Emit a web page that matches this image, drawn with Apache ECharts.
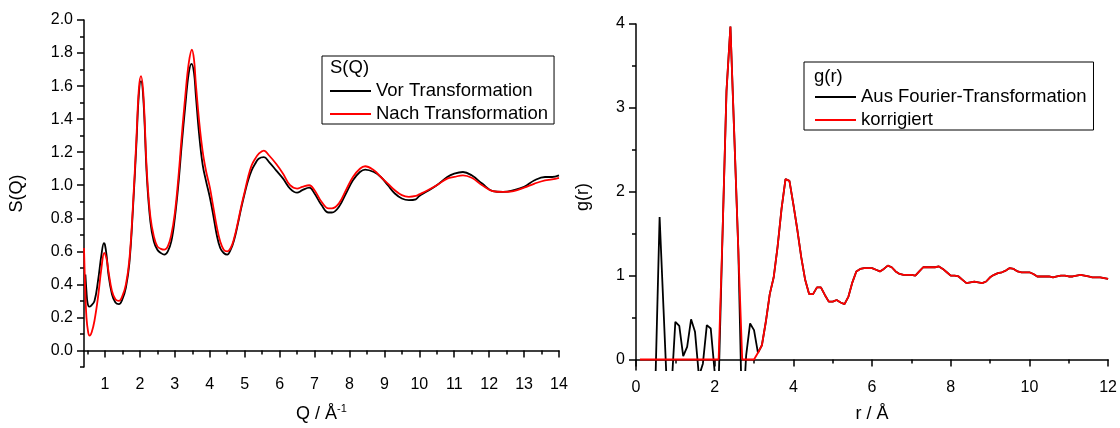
<!DOCTYPE html>
<html>
<head>
<meta charset="utf-8">
<script src="https://cdn.jsdelivr.net/npm/echarts@6/dist/echarts.min.js"></script>
<style>
  html, body { margin: 0; padding: 0; background: #fff; }
  #chart { width: 1120px; height: 428px; }
</style>
</head>
<body>
<div id="chart"></div>
<script>
// S(Q) vor / nach Transformation (links)
var qVor = [0.44, 0.47, 0.5, 0.55, 0.6, 0.7, 0.8, 0.9, 0.97, 1.0, 1.05, 1.1, 1.2, 1.3, 1.4, 1.5, 1.6, 1.7, 1.8, 1.9,
  1.97, 2.03, 2.1, 2.2, 2.3, 2.4, 2.5, 2.6, 2.7, 2.8, 2.9, 3.0, 3.1, 3.2, 3.3, 3.4, 3.48, 3.55, 3.6, 3.7,
  3.8, 3.9, 4.0, 4.1, 4.2, 4.3, 4.4, 4.5, 4.6, 4.7, 4.8, 4.9, 5.0, 5.1, 5.2, 5.3, 5.4, 5.55, 5.7, 5.9,
  6.1, 6.3, 6.5, 6.65, 6.85, 7.0, 7.2, 7.4, 7.5, 7.7, 7.9, 8.1, 8.3, 8.45, 8.7, 8.9, 9.1, 9.3, 9.5, 9.7,
  9.9, 10.0, 10.2, 10.5, 10.8, 11.0, 11.25, 11.5, 11.8, 12.1, 12.4, 12.7, 13.0, 13.3, 13.6, 13.8, 14.0];
var sVor = [0.46, 0.36, 0.29, 0.265, 0.27, 0.30, 0.42, 0.58, 0.65, 0.64, 0.57, 0.46, 0.34, 0.29, 0.28, 0.31, 0.38, 0.53, 0.85, 1.25,
  1.55, 1.63, 1.52, 1.05, 0.78, 0.66, 0.61, 0.59, 0.58, 0.60, 0.66, 0.80, 1.00, 1.25, 1.48, 1.68, 1.735, 1.68, 1.55, 1.30,
  1.12, 1.02, 0.93, 0.82, 0.70, 0.62, 0.59, 0.58, 0.61, 0.67, 0.76, 0.86, 0.95, 1.03, 1.09, 1.13, 1.16, 1.17, 1.14, 1.09,
  1.04, 0.98, 0.955, 0.97, 0.985, 0.95, 0.88, 0.835, 0.835, 0.87, 0.95, 1.03, 1.08, 1.095, 1.08, 1.05, 1.00, 0.95, 0.92, 0.91,
  0.915, 0.935, 0.96, 1.00, 1.05, 1.07, 1.08, 1.06, 1.01, 0.965, 0.96, 0.97, 0.99, 1.03, 1.05, 1.05, 1.06];

var qNach = [0.4, 0.43, 0.47, 0.52, 0.56, 0.62, 0.7, 0.8, 0.9, 0.98, 1.05, 1.1, 1.2, 1.3, 1.4, 1.5, 1.6, 1.7, 1.8, 1.9,
  1.97, 2.03, 2.1, 2.2, 2.3, 2.4, 2.5, 2.6, 2.7, 2.8, 2.9, 3.0, 3.1, 3.2, 3.3, 3.4, 3.49, 3.55, 3.6, 3.7,
  3.8, 3.9, 4.0, 4.1, 4.2, 4.3, 4.4, 4.5, 4.6, 4.7, 4.8, 4.9, 5.0, 5.1, 5.2, 5.3, 5.4, 5.55, 5.7, 5.9,
  6.1, 6.3, 6.5, 6.65, 6.85, 7.0, 7.2, 7.4, 7.5, 7.7, 7.9, 8.1, 8.3, 8.45, 8.7, 8.9, 9.1, 9.3, 9.5, 9.7,
  9.9, 10.0, 10.2, 10.5, 10.8, 11.0, 11.25, 11.5, 11.8, 12.1, 12.4, 12.7, 13.0, 13.3, 13.6, 13.8, 14.0];
var sNach = [0.62, 0.40, 0.20, 0.11, 0.09, 0.11, 0.18, 0.32, 0.50, 0.59, 0.55, 0.48, 0.36, 0.31, 0.30, 0.33, 0.40, 0.55, 0.87, 1.28,
  1.58, 1.66, 1.55, 1.08, 0.81, 0.69, 0.63, 0.615, 0.61, 0.63, 0.70, 0.83, 1.04, 1.30, 1.54, 1.74, 1.82, 1.76, 1.62, 1.38,
  1.20, 1.08, 0.99, 0.87, 0.75, 0.66, 0.61, 0.60, 0.62, 0.68, 0.77, 0.87, 0.96, 1.05, 1.12, 1.16, 1.19, 1.21, 1.18, 1.13,
  1.07, 1.00, 0.98, 0.99, 1.00, 0.97, 0.90, 0.86, 0.86, 0.89, 0.97, 1.05, 1.10, 1.115, 1.09, 1.05, 1.01, 0.97, 0.94, 0.93,
  0.935, 0.945, 0.965, 1.00, 1.04, 1.05, 1.06, 1.045, 1.00, 0.965, 0.96, 0.965, 0.985, 1.01, 1.03, 1.035, 1.045];

// g(r) (rechts): Anfang getrennt, ab 3.2 Å identisch
var rFourierHead = [0.4, 0.5, 0.6, 0.7, 0.8, 0.9, 1.0, 1.1, 1.2, 1.3, 1.4, 1.5, 1.6, 1.7, 1.8, 1.9, 2.0, 2.1,
  2.2, 2.3, 2.4, 2.5, 2.6, 2.7, 2.8, 2.9, 3.0, 3.1];
var gFourierHead = [-1.2, -0.15, 1.70, 0.60, -0.50, -0.36, 0.45, 0.40, 0.04, 0.15, 0.48, 0.33, -0.20, -0.05, 0.41, 0.37, -0.15, -0.30,
  1.50, 3.20, 3.97, 2.65, 1.32, -0.80, 0.05, 0.43, 0.35, 0.08];
var rCorrHead = [0.1, 0.2, 0.3, 0.4, 0.5, 0.6, 0.7, 0.8, 0.9, 1.0, 1.1, 1.2, 1.3, 1.4, 1.5, 1.6, 1.7, 1.8, 1.9, 2.0, 2.1,
  2.2, 2.3, 2.4, 2.5, 2.6, 2.7, 2.8, 2.9, 3.0, 3.1];
var gCorrHead = [0, 0, 0, 0, 0, 0, 0, 0, 0, 0, 0, 0, 0, 0, 0, 0, 0, 0, 0, 0, 0,
  1.50, 3.20, 3.97, 2.65, 1.32, 0, 0, 0, 0, 0.08];
var rTail = [3.2, 3.3, 3.4, 3.5, 3.6, 3.7, 3.8, 3.9, 4.0, 4.1, 4.2, 4.3, 4.4, 4.5, 4.6, 4.7, 4.8, 4.9, 5.0, 5.1,
  5.2, 5.3, 5.4, 5.5, 5.6, 5.7, 5.8, 5.9, 6.0, 6.1, 6.2, 6.3, 6.4, 6.5, 6.6, 6.7, 6.8, 6.9, 7.0, 7.1,
  7.2, 7.3, 7.4, 7.5, 7.6, 7.7, 7.8, 7.9, 8.0, 8.1, 8.2, 8.3, 8.4, 8.5, 8.6, 8.7, 8.8, 8.9, 9.0, 9.1,
  9.2, 9.3, 9.4, 9.5, 9.6, 9.7, 9.8, 9.9, 10.0, 10.1, 10.2, 10.3, 10.4, 10.5, 10.6, 10.7, 10.8, 10.9, 11.0, 11.1,
  11.2, 11.3, 11.4, 11.5, 11.6, 11.7, 11.8, 11.9, 12.0];
var gTail = [0.17, 0.45, 0.78, 0.98, 1.35, 1.80, 2.15, 2.13, 1.85, 1.55, 1.22, 0.95, 0.78, 0.78, 0.86, 0.86, 0.77, 0.69, 0.69, 0.71,
  0.68, 0.66, 0.75, 0.92, 1.05, 1.08, 1.09, 1.09, 1.09, 1.07, 1.05, 1.08, 1.12, 1.10, 1.05, 1.02, 1.01, 1.01, 1.01, 1.00,
  1.05, 1.10, 1.10, 1.10, 1.10, 1.11, 1.08, 1.04, 1.00, 1.00, 0.99, 0.95, 0.91, 0.92, 0.93, 0.92, 0.91, 0.93, 0.98, 1.01,
  1.03, 1.04, 1.06, 1.09, 1.08, 1.05, 1.04, 1.04, 1.04, 1.02, 0.99, 0.99, 0.99, 0.99, 0.98, 0.99, 1.00, 1.00, 0.99, 0.99,
  1.00, 1.01, 1.00, 0.99, 0.98, 0.98, 0.98, 0.97, 0.96];

// Achsenbeschriftung
var qTicks = [1, 2, 3, 4, 5, 6, 7, 8, 9, 10, 11, 12, 13, 14];
var qMinorTicks = [0.5, 1.5, 2.5, 3.5, 4.5, 5.5, 6.5, 7.5, 8.5, 9.5, 10.5, 11.5, 12.5, 13.5];
var sTicks = [0, 0.2, 0.4, 0.6, 0.8, 1.0, 1.2, 1.4, 1.6, 1.8, 2.0];
var sMinorTicks = [-0.1, 0.1, 0.3, 0.5, 0.7, 0.9, 1.1, 1.3, 1.5, 1.7, 1.9];
var gTicks = [0, 1, 2, 3, 4];
var gMinorTicks = [0.5, 1.5, 2.5, 3.5];

function zip(xs, ys) {
  return xs.map(function (x, i) { return [x, ys[i]] })
}

var FONT = 'Liberation Sans, Arial, sans-serif'
var axisLine = { lineStyle: { color: '#000', width: 1.5 } }
var labelStyle = { color: '#000', fontSize: 16, fontFamily: FONT, margin: 10 }
var nameStyle = { color: '#000', fontSize: 18, fontFamily: FONT }
var legendText = { fontSize: 18.5, color: '#000', fontFamily: FONT, lineHeight: 20 }
var boxTitle = { fontSize: 18.5, fontWeight: 'normal', color: '#000', fontFamily: FONT, lineHeight: 20 }

var myChart = echarts.init(document.getElementById('chart'))
var option = {
  animation: false,
  title: [
    { text: 'S(Q)', left: 330, top: 58, padding: 0, textStyle: boxTitle },
    { text: 'g(r)', left: 814, top: 67, padding: 0, textStyle: boxTitle }
  ],
  legend: [
    {
      data: ['Vor Transformation', 'Nach Transformation'],
      orient: 'vertical', left: 322, top: 56,
      padding: [25, 6, 0, 8], itemGap: 3,
      borderColor: '#000', borderWidth: 1,
      icon: 'rect', itemWidth: 41, itemHeight: 2,
      selectedMode: false,
      textStyle: legendText
    },
    {
      data: ['Aus Fourier-Transformation', 'korrigiert'],
      orient: 'vertical', left: 804, top: 62,
      padding: [25, 7, 0, 11], itemGap: 3,
      borderColor: '#000', borderWidth: 1,
      icon: 'rect', itemWidth: 41, itemHeight: 2,
      selectedMode: false,
      textStyle: legendText
    }
  ],
  grid: [
    { left: 84, right: 561, top: 20, bottom: 60 },
    { left: 636, right: 9, top: 24, bottom: 56 }
  ],
  xAxis: [
    {
      gridIndex: 0, type: 'value', position: 'bottom',
      min: 0.4, max: 14, interval: 0.2,
      axisLine: axisLine,
      axisTick: { customValues: qTicks, length: 7, lineStyle: { color: '#000', width: 1.5 } },
      axisLabel: Object.assign({ customValues: qTicks }, labelStyle),
      splitLine: { show: false },
      name: '{a|Q / Å}{s|-1}', nameLocation: 'middle', nameGap: 36,
      nameTextStyle: {
        rich: {
          a: { fontSize: 18, fontFamily: FONT, color: '#000', lineHeight: 22 },
          s: { fontSize: 11, fontFamily: FONT, color: '#000', verticalAlign: 'top', lineHeight: 22 }
        }
      }
    },
    {
      // Zwischenstriche
      gridIndex: 0, type: 'value', position: 'bottom',
      min: 0.4, max: 14, interval: 0.2,
      axisLine: { show: false },
      axisTick: { customValues: qMinorTicks, length: 4, lineStyle: { color: '#000', width: 1.5 } },
      axisLabel: { show: false },
      splitLine: { show: false }
    },
    {
      gridIndex: 1, type: 'value', position: 'bottom',
      min: 0, max: 12, interval: 2,
      axisLine: axisLine,
      axisTick: { length: 7, lineStyle: { color: '#000', width: 1.5 } },
      minorTick: { show: true, splitNumber: 2, length: 4, lineStyle: { color: '#000', width: 1.5 } },
      axisLabel: labelStyle,
      splitLine: { show: false },
      name: 'r / Å', nameLocation: 'middle', nameGap: 35,
      nameTextStyle: nameStyle
    }
  ],
  yAxis: [
    {
      gridIndex: 0, type: 'value', position: 'left',
      min: -0.1, max: 2, interval: 0.1,
      axisLine: axisLine,
      axisTick: { customValues: sTicks, length: 7, lineStyle: { color: '#000', width: 1.5 } },
      axisLabel: Object.assign({ customValues: sTicks, formatter: function (v) { return v.toFixed(1) } }, labelStyle, { margin: 11 }),
      splitLine: { show: false },
      name: 'S(Q)', nameLocation: 'middle', nameGap: 58,
      nameTextStyle: nameStyle
    },
    {
      gridIndex: 0, type: 'value', position: 'left',
      min: -0.1, max: 2, interval: 0.1,
      axisLine: { show: false },
      axisTick: { customValues: sMinorTicks, length: 4, lineStyle: { color: '#000', width: 1.5 } },
      axisLabel: { show: false },
      splitLine: { show: false }
    },
    {
      gridIndex: 1, type: 'value', position: 'left',
      min: -0.125, max: 4, interval: 0.125,
      axisLine: axisLine,
      axisTick: { customValues: gTicks, length: 7, lineStyle: { color: '#000', width: 1.5 } },
      axisLabel: Object.assign({ customValues: gTicks }, labelStyle, { margin: 11 }),
      splitLine: { show: false },
      name: 'g(r)', nameLocation: 'middle', nameGap: 44,
      nameTextStyle: nameStyle
    },
    {
      gridIndex: 1, type: 'value', position: 'left',
      min: -0.125, max: 4, interval: 0.125,
      axisLine: { show: false },
      axisTick: { customValues: gMinorTicks, length: 4, lineStyle: { color: '#000', width: 1.5 } },
      axisLabel: { show: false },
      splitLine: { show: false }
    }
  ],
  series: [
    {
      name: 'Vor Transformation', type: 'line', xAxisIndex: 0, yAxisIndex: 0,
      data: zip(qVor, sVor), smooth: 0.4, showSymbol: false,
      color: '#000', lineStyle: { color: '#000', width: 1.8 }
    },
    {
      name: 'Nach Transformation', type: 'line', xAxisIndex: 0, yAxisIndex: 0,
      data: zip(qNach, sNach), smooth: 0.4, showSymbol: false,
      color: '#ff0000', lineStyle: { color: '#ff0000', width: 1.8 }
    },
    {
      name: 'Aus Fourier-Transformation', type: 'line', xAxisIndex: 2, yAxisIndex: 2,
      data: zip(rFourierHead.concat(rTail), gFourierHead.concat(gTail)), showSymbol: false,
      color: '#000', lineStyle: { color: '#000', width: 1.8 }
    },
    {
      name: 'korrigiert', type: 'line', xAxisIndex: 2, yAxisIndex: 2,
      data: zip(rCorrHead.concat(rTail), gCorrHead.concat(gTail)), showSymbol: false,
      color: '#ff0000', lineStyle: { color: '#ff0000', width: 1.8 }
    }
  ]
};

myChart.setOption(option)
window.addEventListener('resize', function () {
  myChart.resize()
})
</script>
</body>
</html>
